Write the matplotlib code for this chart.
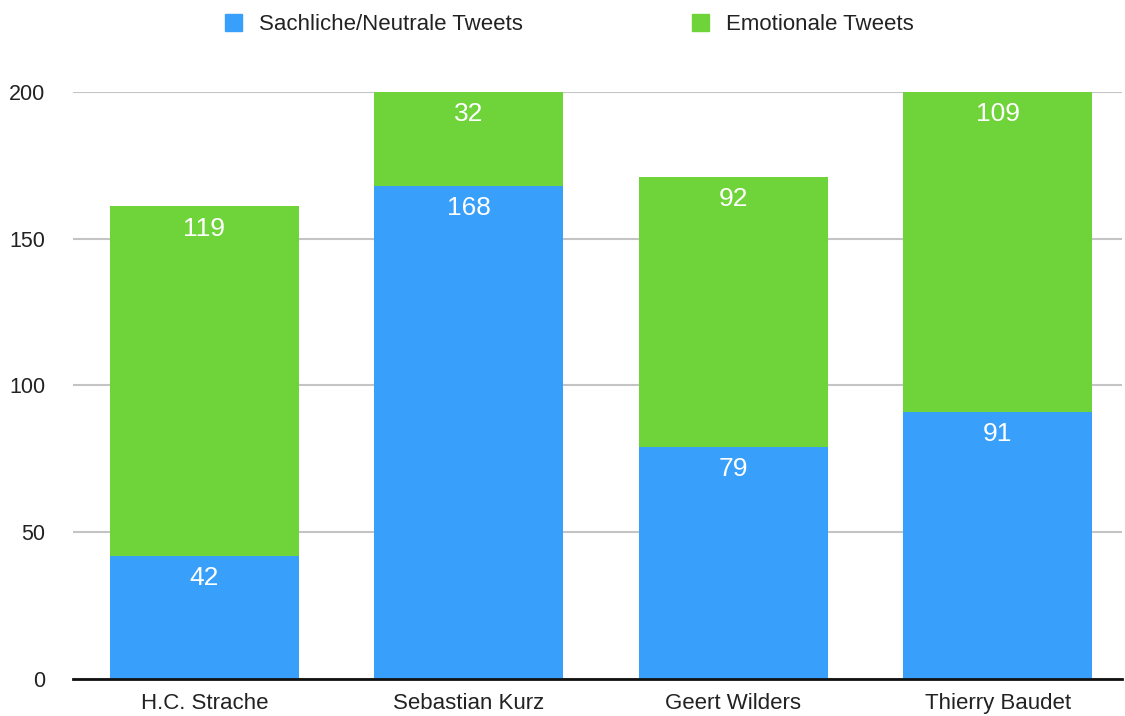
import matplotlib.pyplot as plt
from matplotlib.patches import Patch

plt.rcParams['font.family'] = ['Liberation Sans', 'DejaVu Sans']

politicians = ["H.C. Strache", "Sebastian Kurz", "Geert Wilders", "Thierry Baudet"]
neutral = [42, 168, 79, 91]
emotional = [119, 32, 92, 109]

blue = "#38a0fa"
green = "#6fd43a"

fig = plt.figure(figsize=(11.25, 7.16), dpi=100)
ax = fig.add_axes([0.0649, 0.0517, 0.9324, 0.8198])

x = list(range(len(politicians)))
w = 0.715
ax.bar(x, neutral, width=w, color=blue, zorder=2)
ax.bar(x, emotional, width=w, bottom=neutral, color=green, zorder=2)

# value labels sit just under the top edge of each segment
for i in x:
    tops = [neutral[i], neutral[i] + emotional[i]]
    for val, top in zip([neutral[i], emotional[i]], tops):
        ax.annotate(str(val), (i, top), xytext=(0, -16), textcoords="offset points",
                    ha="center", va="center", color="white", fontsize=19)

ax.set_ylim(0, 200)
ax.set_xlim(-0.497, 3.47)
ax.set_yticks([0, 50, 100, 150, 200])
ax.set_xticks(x)
ax.set_xticklabels(politicians)
ax.tick_params(axis="both", length=0, colors="#222222")
ax.tick_params(axis="y", pad=20, labelsize=15.5)
ax.tick_params(axis="x", pad=10, labelsize=16)
ax.yaxis.grid(True, color="#c4c4c4", linewidth=1.5, zorder=0)
ax.set_axisbelow(True)
for side in ["top", "right", "left"]:
    ax.spines[side].set_visible(False)
ax.spines["bottom"].set_linewidth(2)
ax.spines["bottom"].set_color("#111111")
ax.spines["bottom"].set_zorder(3)

handles = [Patch(color=blue, label="Sachliche/Neutrale Tweets"),
           Patch(color=green, label="Emotionale Tweets")]
fig.legend(handles=handles, loc="upper center", bbox_to_anchor=(0.506, 1.008), ncol=2,
           frameon=False, fontsize=16, handlelength=0.77, handleheight=0.77,
           handletextpad=0.77, columnspacing=7.6, labelcolor="#222222")

fig.savefig("out.png", dpi=100)
